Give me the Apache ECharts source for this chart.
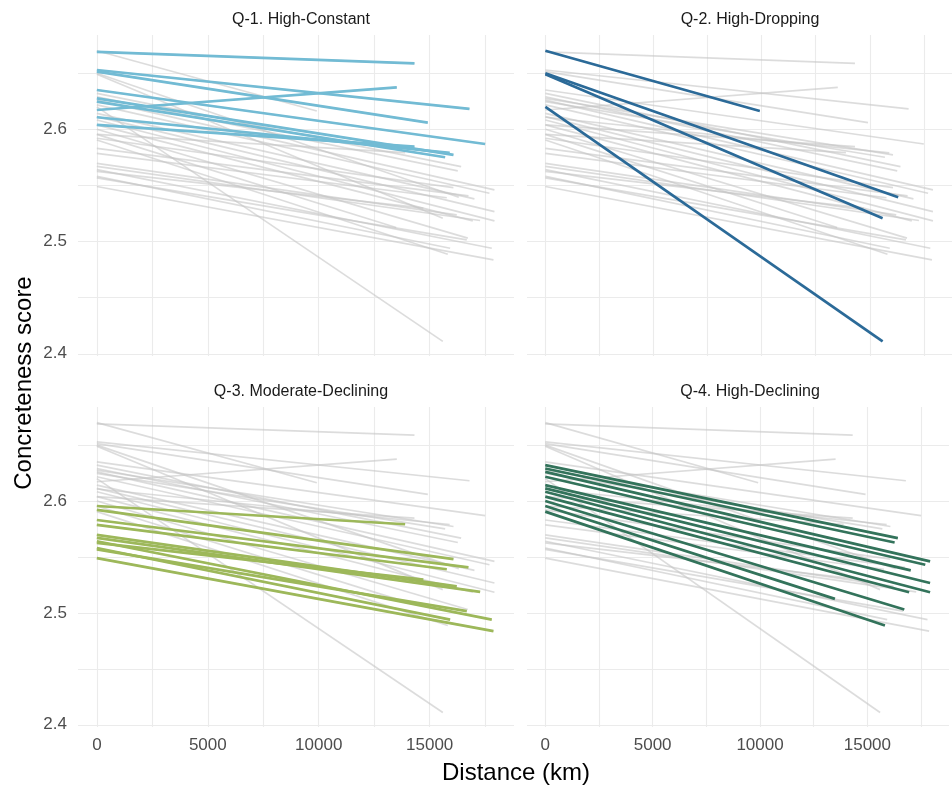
<!DOCTYPE html>
<html>
<head>
<meta charset="utf-8">
<script src="https://cdn.jsdelivr.net/npm/echarts@6/dist/echarts.min.js"></script>
<style>
  html, body { margin: 0; padding: 0; background: #fff; }
  #chart { width: 952px; height: 791px; }
</style>
</head>
<body>
<div id="chart"></div>
<script>
// Panel titles
const panelTitles = ["Q-1. High-Constant", "Q-2. High-Dropping", "Q-3. Moderate-Declining", "Q-4. High-Declining"];
// Tick labels
const xTicks = [0, 5000, 10000, 15000];
const yTicks = [2.4, 2.5, 2.6];
// Gridline positions (major + minor)
const xGridVals = [0, 2500, 5000, 7500, 10000, 12500, 15000, 17500];
const yGridVals = [2.4, 2.45, 2.5, 2.55, 2.6, 2.65];
// Each fitted line: [score at distance 0, end distance (km), score at end distance]
const q1Lines = [
  [2.669, 14314, 2.6588],
  [2.6528, 16792, 2.6181],
  [2.6513, 14915, 2.6059],
  [2.6172, 13518, 2.6374],
  [2.635, 17498, 2.5869],
  [2.6276, 16071, 2.5772],
  [2.6246, 15696, 2.5751],
  [2.6107, 15900, 2.5790],
  [2.6039, 14314, 2.5846]
];
const q2Lines = [
  [2.670, 9913, 2.6163],
  [2.6499, 16312, 2.5395],
  [2.649, 15591, 2.5208],
  [2.620, 15591, 2.411]
];
const q3Lines = [
  [2.5955, 13894, 2.5792],
  [2.592, 16071, 2.548],
  [2.583, 16747, 2.5407],
  [2.5786, 15771, 2.539],
  [2.5697, 16221, 2.5237],
  [2.567, 17273, 2.5187],
  [2.564, 17798, 2.494],
  [2.5625, 14714, 2.5297],
  [2.558, 15921, 2.494],
  [2.5567, 16672, 2.5015],
  [2.549, 17874, 2.4837]
];
const q4Lines = [
  [2.632, 16417, 2.5668],
  [2.629, 16267, 2.5629],
  [2.626, 17919, 2.546],
  [2.6217, 17694, 2.543],
  [2.6142, 17018, 2.538],
  [2.6113, 17919, 2.5267],
  [2.6083, 17919, 2.5184],
  [2.6039, 16942, 2.5184],
  [2.600, 16717, 2.503],
  [2.5955, 13488, 2.5125],
  [2.5905, 15816, 2.4887]
];
const clusterLines = [q1Lines, q2Lines, q3Lines, q4Lines];
const clusterColors = ["#72BBD4", "#2B6A98", "#9DB85A", "#33735B"];

const X_MIN = -850, X_MAX = 18800, Y_MIN = 2.398, Y_MAX = 2.684;
const FONT = "'Liberation Sans', Arial, sans-serif";

const grids = [
  { left: 78, top: 35, width: 436, height: 321 },
  { left: 527, top: 35, width: 436, height: 321 },
  { left: 78, top: 407, width: 436, height: 320 },
  { left: 527, top: 407, width: 436, height: 320 }
];

const allLines = [].concat(q1Lines, q2Lines, q3Lines, q4Lines);
const toCoords = l => ({ coords: [[0, l[0]], [l[1], l[2]]] });

const xAxes = [], yAxes = [], series = [], titles = [];
grids.forEach((g, i) => {
  const bottomRow = i >= 2, leftCol = i % 2 === 0;
  xAxes.push({
    type: 'value', gridIndex: i, min: X_MIN, max: X_MAX, splitNumber: 4,
    axisLine: { show: false }, axisTick: { show: false }, splitLine: { show: false },
    axisLabel: {
      show: bottomRow, color: '#4d4d4d', fontSize: 17, fontFamily: FONT, margin: 10,
      formatter: v => xTicks.some(t => Math.abs(t - v) < 1e-6) ? String(v) : ''
    }
  });
  yAxes.push({
    type: 'value', gridIndex: i, min: Y_MIN, max: Y_MAX, splitNumber: 3,
    axisLine: { show: false }, axisTick: { show: false }, splitLine: { show: false },
    axisLabel: {
      show: leftCol, color: '#4d4d4d', fontSize: 17, fontFamily: FONT, margin: 11,
      formatter: v => yTicks.some(t => Math.abs(t - v) < 1e-6) ? v.toFixed(1) : ''
    }
  });
  // gridlines
  const gl = [];
  xGridVals.forEach(x => gl.push({ coords: [[x, Y_MIN], [x, Y_MAX]] }));
  yGridVals.forEach(y => gl.push({ coords: [[X_MIN, y], [X_MAX, y]] }));
  series.push({
    type: 'lines', coordinateSystem: 'cartesian2d', xAxisIndex: i, yAxisIndex: i,
    silent: true, z: 1, data: gl,
    lineStyle: { color: '#ebebeb', width: 1.1, opacity: 1 }
  });
  // all lines in gray
  series.push({
    type: 'lines', coordinateSystem: 'cartesian2d', xAxisIndex: i, yAxisIndex: i,
    silent: true, z: 2, data: allLines.map(toCoords),
    lineStyle: { color: '#c4c4c4', width: 1.7, opacity: 0.6 }
  });
  // highlighted cluster
  series.push({
    type: 'lines', coordinateSystem: 'cartesian2d', xAxisIndex: i, yAxisIndex: i,
    silent: true, z: 3, data: clusterLines[i].map(toCoords),
    lineStyle: { color: clusterColors[i], width: 2.7, opacity: 1 }
  });
  titles.push({
    text: panelTitles[i], left: g.left + g.width / 2, top: g.top - 28, textAlign: 'center',
    textStyle: { fontSize: 16, fontWeight: 'normal', color: '#1a1a1a', fontFamily: FONT }
  });
});

const chart = echarts.init(document.getElementById('chart'), null, { renderer: 'canvas' });
chart.setOption({
  animation: false,
  backgroundColor: '#ffffff',
  title: titles,
  grid: grids,
  xAxis: xAxes,
  yAxis: yAxes,
  series: series,
  graphic: [
    { type: 'text', x: 516, y: 773, style: { text: 'Distance (km)', fontSize: 24, fill: '#000', fontFamily: FONT, align: 'center', verticalAlign: 'middle' } },
    { type: 'text', x: 24, y: 383, rotation: Math.PI / 2, style: { text: 'Concreteness score', fontSize: 24, fill: '#000', fontFamily: FONT, align: 'center', verticalAlign: 'middle' } }
  ]
});
</script>
</body>
</html>
